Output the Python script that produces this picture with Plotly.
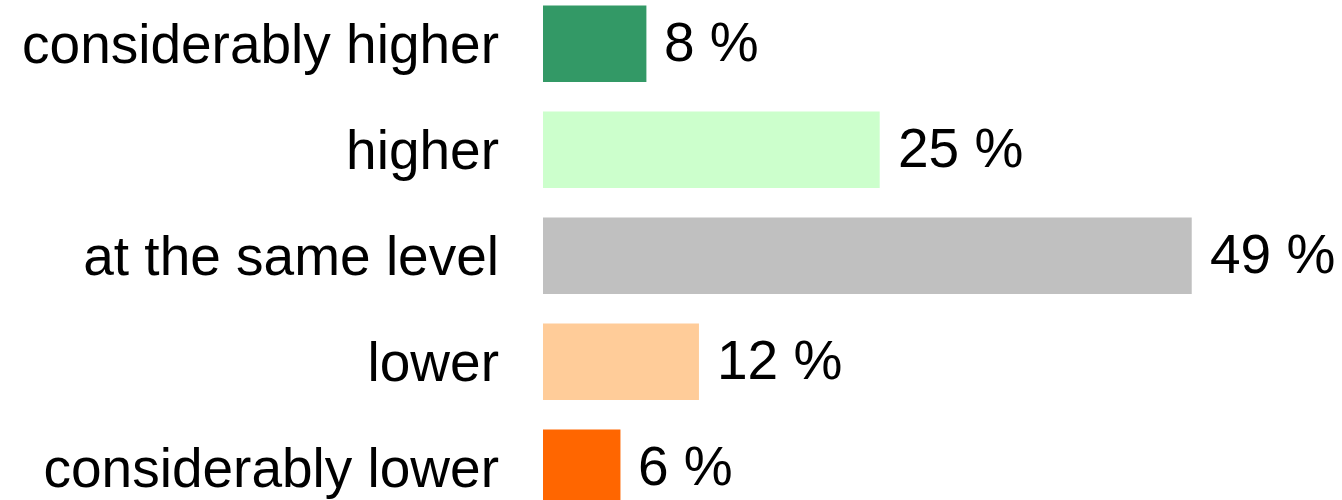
import plotly.graph_objects as go

categories = ["considerably higher", "higher", "at the same level", "lower", "considerably lower"]
values = [7.81, 25.43, 49.0, 11.78, 5.85]
value_labels = ["8 %", "25 %", "49 %", "12 %", "6 %"]
colors = ["#339966", "#CCFFCC", "#C0C0C0", "#FFCC99", "#FF6600"]

positions = list(range(len(categories)))
FONT = "Liberation Sans, Arial, Helvetica, sans-serif"
FS = 55

fig = go.Figure()
fig.add_trace(go.Bar(
    x=values,
    y=positions,
    orientation="h",
    marker=dict(color=colors, line=dict(width=0)),
    width=0.72,
    hoverinfo="skip",
))

for v, p, lab in zip(values, positions, value_labels):
    fig.add_annotation(
        x=v, y=p, text=lab, showarrow=False,
        xanchor="left", yanchor="middle", xshift=16, yshift=2,
        font=dict(family=FONT, size=FS, color="black"),
    )

fig.update_layout(
    width=1342, height=500,
    margin=dict(l=543, r=0, t=0, b=0, autoexpand=False),
    paper_bgcolor="white", plot_bgcolor="white",
    showlegend=False,
    font=dict(family=FONT, size=FS, color="black"),
    xaxis=dict(range=[0, 60.35], visible=False, showgrid=False, zeroline=False),
    yaxis=dict(
        range=[4.304, -0.413],
        tickmode="array", tickvals=positions, ticktext=categories,
        showgrid=False, zeroline=False, showline=False, ticks="",
        ticklabelstandoff=43,
        tickfont=dict(family=FONT, size=FS, color="black"),
    ),
)

fig.write_html(
    "out.html",
    config={"displayModeBar": False, "staticPlot": True},
    post_script="document.body.style.margin='0';document.body.style.overflow='hidden';",
)
